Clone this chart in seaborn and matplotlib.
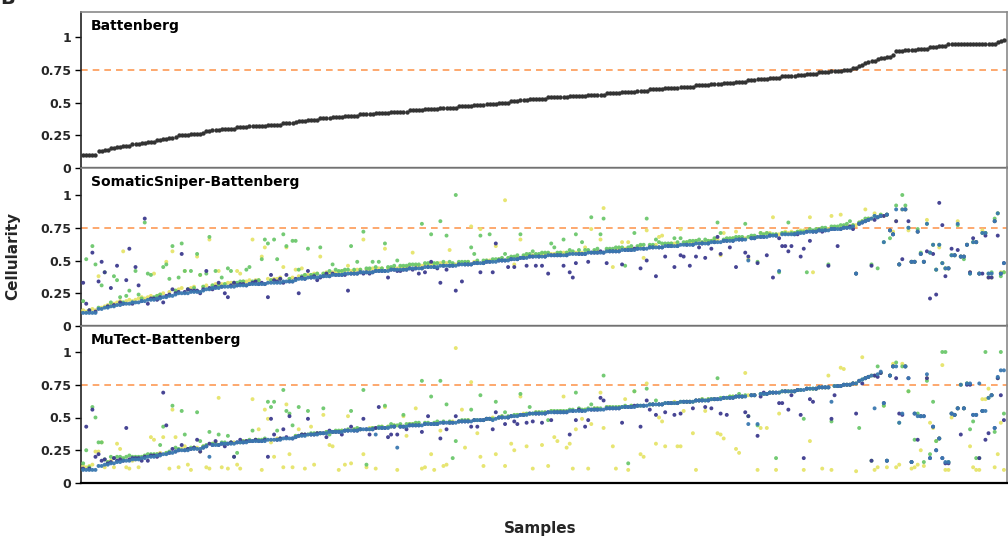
import numpy as np
import pandas as pd
import matplotlib
matplotlib.use("Agg")
import matplotlib.pyplot as plt
import seaborn as sns

# ---------------- data (cellularity in percent, one value per sample) ----------------
BATTENBERG = [
    10, 10, 10, 10, 10, 13, 13, 14, 14, 15, 15, 16, 16, 17, 17, 17, 18, 18, 18, 19,
    19, 20, 20, 20, 21, 21, 22, 22, 23, 23, 24, 25, 25, 25, 25, 26, 26, 26, 26, 27,
    28, 28, 29, 29, 29, 30, 30, 30, 30, 30, 31, 31, 31, 31, 32, 32, 32, 32, 32, 32,
    33, 33, 33, 33, 33, 34, 34, 34, 34, 35, 36, 36, 36, 37, 37, 37, 37, 38, 38, 38,
    38, 39, 39, 39, 39, 40, 40, 40, 40, 40, 41, 41, 41, 41, 41, 42, 42, 42, 42, 42,
    43, 43, 43, 43, 43, 43, 44, 44, 44, 44, 44, 45, 45, 45, 45, 45, 46, 46, 46, 46,
    46, 46, 47, 47, 47, 47, 47, 48, 48, 48, 48, 49, 49, 49, 49, 50, 50, 50, 50, 51,
    51, 51, 52, 52, 52, 53, 53, 53, 53, 53, 53, 54, 54, 54, 54, 54, 54, 54, 55, 55,
    55, 55, 55, 55, 56, 56, 56, 56, 56, 56, 57, 57, 57, 57, 57, 58, 58, 58, 58, 58,
    59, 59, 59, 59, 60, 60, 60, 60, 60, 61, 61, 61, 61, 61, 62, 62, 62, 62, 62, 63,
    63, 63, 63, 63, 64, 64, 64, 64, 65, 65, 65, 65, 66, 66, 66, 66, 67, 67, 67, 68,
    68, 68, 68, 69, 69, 69, 69, 70, 70, 70, 70, 70, 71, 71, 71, 72, 72, 72, 72, 73,
    73, 73, 73, 74, 74, 74, 74, 75, 75, 75, 76, 76, 78, 79, 80, 81, 82, 82, 83, 84,
    84, 85, 85, 86, 89, 89, 89, 90, 90, 90, 90, 91, 91, 91, 91, 92, 92, 92, 93, 93,
    93, 95, 95, 95, 95, 95, 95, 95, 95, 95, 95, 95, 95, 95, 95, 95, 95, 96, 97, 98,
]

SS_PURPLE = [
    33, 17, 12, 56, 11, 34, 49, 41, 15, 29, 16, 46, 18, 17, 35, 59, 17, 45, 31, 19,
    82, 17, 21, 21, 20, 22, 18, 23, 24, 28, 25, 26, 55, 26, 28, 27, 27, 27, 25, 28,
    42, 29, 28, 30, 33, 30, 25, 22, 31, 33, 31, 32, 32, 31, 32, 33, 34, 32, 33, 32,
    22, 39, 35, 34, 36, 33, 39, 34, 34, 36, 25, 37, 36, 42, 37, 38, 35, 37, 38, 40,
    38, 40, 39, 39, 39, 39, 27, 40, 40, 40, 41, 40, 41, 40, 41, 42, 42, 42, 42, 37,
    43, 43, 42, 42, 43, 43, 44, 43, 44, 40, 44, 41, 45, 49, 45, 44, 33, 46, 43, 46,
    46, 27, 47, 34, 47, 47, 47, 48, 48, 41, 48, 49, 49, 41, 63, 50, 50, 50, 45, 51,
    45, 51, 52, 52, 46, 53, 53, 46, 53, 46, 53, 40, 54, 54, 54, 54, 46, 54, 41, 37,
    48, 55, 55, 55, 49, 56, 56, 56, 57, 56, 48, 57, 57, 57, 57, 47, 58, 58, 58, 59,
    59, 44, 59, 50, 60, 60, 38, 60, 60, 53, 61, 61, 45, 61, 54, 53, 62, 46, 62, 53,
    60, 63, 52, 63, 59, 64, 68, 55, 65, 65, 60, 65, 45, 66, 66, 56, 53, 67, 67, 48,
    68, 68, 54, 69, 37, 69, 67, 61, 61, 57, 61, 70, 70, 53, 59, 72, 65, 72, 72, 73,
    72, 73, 46, 74, 74, 61, 74, 75, 75, 76, 74, 40, 78, 79, 80, 81, 46, 81, 83, 84,
    84, 85, 73, 70, 80, 47, 51, 89, 80, 49, 49, 72, 55, 49, 57, 21, 55, 24, 94, 77,
    38, 44, 59, 54, 58, 53, 53, 62, 41, 67, 64, 40, 40, 69, 37, 37, 80, 69, 40, 48,
]
SS_BLUE = [
    10, 10, 10, 10, 10, 13, 13, 14, 14, 15, 15, 16, 16, 17, 17, 17, 18, 18, 18, 19,
    19, 20, 20, 20, 21, 21, 22, 22, 23, 23, 24, 25, 25, 25, 25, 26, 26, 26, 26, 27,
    28, 28, 29, 29, 29, 30, 30, 30, 30, 30, 31, 31, 31, 31, 32, 32, 32, 32, 32, 32,
    33, 33, 33, 33, 33, 34, 34, 34, 34, 35, 36, 36, 36, 37, 37, 37, 37, 38, 38, 38,
    38, 39, 39, 39, 39, 40, 40, 40, 40, 40, 41, 41, 41, 41, 41, 42, 42, 42, 42, 42,
    43, 43, 43, 43, 43, 43, 44, 44, 44, 44, 44, 45, 45, 45, 45, 45, 46, 46, 46, 46,
    46, 46, 47, 47, 47, 47, 47, 48, 48, 48, 48, 49, 49, 49, 49, 50, 50, 50, 50, 51,
    51, 51, 52, 52, 52, 53, 53, 53, 53, 53, 53, 54, 54, 54, 54, 54, 54, 54, 55, 55,
    55, 55, 55, 55, 56, 56, 56, 56, 56, 56, 57, 57, 57, 57, 57, 58, 58, 58, 58, 58,
    59, 59, 59, 59, 60, 60, 60, 60, 60, 61, 61, 61, 61, 61, 62, 62, 62, 62, 62, 63,
    63, 63, 63, 63, 64, 64, 64, 64, 65, 65, 65, 65, 66, 66, 66, 66, 50, 67, 67, 68,
    68, 68, 68, 69, 69, 69, 42, 70, 70, 70, 70, 70, 71, 71, 71, 72, 72, 72, 72, 73,
    73, 73, 73, 74, 74, 74, 74, 75, 75, 75, 76, 40, 78, 79, 80, 81, 82, 84, 83, 84,
    64, 85, 73, 70, 89, 47, 89, 89, 75, 49, 49, 72, 55, 49, 78, 56, 62, 43, 62, 48,
    44, 44, 54, 54, 78, 53, 53, 62, 40, 64, 64, 40, 71, 71, 40, 40, 80, 86, 40, 48,
]
SS_GREEN = [
    19, 51, 12, 61, 47, 14, 31, 41, 15, 18, 38, 35, 22, 18, 23, 27, 18, 42, 24, 21,
    79, 40, 39, 22, 23, 24, 45, 47, 36, 61, 27, 37, 63, 42, 28, 42, 29, 55, 39, 30,
    40, 68, 31, 42, 31, 37, 32, 44, 42, 33, 33, 34, 34, 43, 45, 34, 34, 35, 51, 66,
    63, 35, 66, 51, 36, 70, 61, 36, 65, 65, 43, 38, 39, 59, 39, 39, 40, 60, 40, 40,
    42, 47, 43, 42, 42, 43, 43, 61, 43, 49, 43, 72, 44, 44, 49, 45, 49, 44, 63, 45,
    45, 46, 50, 46, 46, 46, 47, 47, 47, 47, 78, 48, 48, 70, 48, 48, 80, 49, 69, 49,
    48, 100, 49, 49, 49, 49, 60, 55, 50, 69, 50, 50, 70, 51, 51, 51, 52, 55, 52, 53,
    53, 54, 70, 54, 55, 55, 57, 55, 55, 56, 56, 56, 63, 60, 56, 56, 66, 56, 58, 57,
    70, 58, 64, 58, 58, 83, 58, 59, 70, 82, 59, 59, 59, 60, 60, 60, 46, 60, 61, 71,
    61, 62, 62, 82, 62, 62, 66, 64, 63, 63, 63, 63, 67, 64, 67, 64, 64, 65, 65, 65,
    66, 64, 66, 65, 65, 67, 79, 71, 66, 67, 67, 67, 68, 68, 68, 78, 68, 69, 69, 49,
    71, 70, 71, 70, 70, 70, 41, 71, 71, 79, 71, 71, 72, 72, 72, 41, 74, 73, 74, 74,
    75, 75, 47, 76, 76, 76, 77, 77, 78, 80, 77, 40, 79, 80, 82, 82, 47, 84, 44, 85,
    64, 85, 67, 70, 92, 47, 100, 92, 75, 49, 49, 74, 56, 49, 78, 56, 62, 43, 62, 48,
    44, 44, 54, 54, 77, 53, 51, 62, 40, 64, 64, 40, 71, 71, 40, 41, 82, 86, 38, 41,
]
SS_YELLOW = [
    12, 11, 12, 13, 12, 38, 14, 15, 16, 16, 17, 18, 19, 57, 19, 20, 19, 20, 21, 22,
    21, 22, 23, 40, 23, 24, 25, 49, 26, 57, 27, 28, 29, 42, 28, 29, 30, 53, 39, 30,
    31, 66, 31, 32, 42, 32, 32, 33, 33, 33, 42, 40, 34, 34, 35, 66, 35, 35, 53, 60,
    36, 35, 36, 36, 37, 45, 60, 36, 37, 43, 38, 44, 39, 39, 39, 40, 40, 53, 40, 41,
    40, 41, 41, 41, 42, 42, 46, 42, 42, 43, 43, 66, 43, 43, 44, 44, 44, 44, 59, 44,
    44, 44, 44, 45, 45, 45, 46, 56, 46, 46, 46, 47, 47, 47, 47, 48, 48, 48, 48, 58,
    47, 47, 48, 48, 48, 49, 76, 49, 49, 74, 49, 50, 50, 50, 61, 51, 51, 96, 51, 52,
    47, 52, 66, 53, 53, 54, 54, 54, 54, 55, 55, 55, 55, 55, 55, 56, 56, 56, 56, 56,
    56, 56, 56, 60, 57, 74, 57, 57, 66, 90, 58, 58, 45, 58, 59, 64, 59, 64, 59, 59,
    60, 61, 52, 73, 61, 61, 62, 68, 69, 62, 62, 63, 63, 63, 74, 63, 64, 64, 64, 65,
    63, 64, 64, 65, 65, 66, 66, 54, 71, 66, 66, 67, 72, 67, 67, 67, 51, 68, 68, 68,
    71, 70, 71, 71, 83, 70, 70, 71, 72, 71, 72, 71, 72, 73, 73, 73, 83, 41, 73, 74,
    74, 74, 74, 84, 75, 75, 85, 76, 76, 76, 77, 77, 79, 80, 89, 82, 82, 86, 83, 85,
    84, 85, 73, 72, 80, 47, 89, 89, 73, 49, 49, 72, 55, 49, 81, 56, 62, 43, 60, 48,
    44, 44, 54, 54, 80, 53, 53, 62, 41, 64, 64, 40, 73, 71, 37, 37, 80, 86, 41, 41,
]

MT_PURPLE = [
    11, 43, 11, 56, 20, 22, 17, 18, 15, 16, 19, 17, 18, 17, 42, 18, 19, 19, 19, 17,
    20, 17, 21, 21, 20, 22, 69, 44, 23, 26, 24, 25, 29, 25, 26, 26, 27, 33, 24, 27,
    28, 30, 29, 32, 29, 30, 28, 30, 31, 20, 31, 33, 31, 32, 32, 32, 33, 32, 32, 33,
    20, 49, 37, 33, 34, 41, 35, 51, 34, 35, 36, 37, 37, 49, 37, 37, 38, 38, 38, 35,
    40, 39, 39, 39, 37, 40, 40, 43, 40, 40, 41, 49, 41, 37, 41, 42, 58, 42, 42, 35,
    37, 43, 37, 43, 43, 41, 44, 44, 44, 44, 39, 45, 51, 45, 45, 45, 34, 46, 41, 46,
    46, 51, 47, 47, 47, 47, 43, 48, 43, 48, 48, 49, 49, 41, 54, 50, 50, 45, 50, 51,
    47, 45, 52, 52, 46, 53, 47, 53, 53, 46, 53, 54, 48, 54, 54, 54, 54, 54, 37, 55,
    48, 56, 55, 43, 48, 56, 56, 56, 65, 63, 57, 57, 57, 57, 57, 46, 58, 58, 58, 59,
    59, 43, 59, 63, 56, 60, 52, 60, 60, 54, 61, 61, 52, 61, 53, 62, 62, 62, 57, 63,
    63, 63, 58, 63, 57, 64, 64, 53, 65, 52, 65, 65, 66, 66, 66, 54, 51, 67, 67, 36,
    66, 69, 68, 69, 69, 69, 61, 61, 70, 56, 67, 70, 71, 52, 19, 72, 64, 62, 72, 73,
    73, 73, 73, 49, 67, 74, 74, 75, 75, 75, 76, 53, 78, 76, 80, 81, 17, 82, 81, 84,
    61, 17, 82, 89, 80, 53, 52, 89, 80, 16, 53, 33, 51, 51, 80, 19, 43, 25, 34, 19,
    15, 15, 53, 52, 57, 37, 57, 75, 75, 52, 52, 19, 55, 33, 38, 67, 42, 80, 67, 48,
]
MT_BLUE = [
    10, 10, 10, 10, 10, 13, 13, 14, 14, 15, 15, 16, 16, 17, 17, 17, 18, 18, 18, 19,
    19, 20, 20, 20, 21, 21, 22, 22, 23, 23, 24, 25, 25, 25, 25, 26, 26, 26, 26, 27,
    28, 20, 29, 29, 29, 30, 30, 30, 30, 30, 31, 31, 31, 31, 32, 32, 32, 32, 32, 32,
    33, 33, 33, 33, 33, 34, 34, 34, 34, 35, 36, 36, 36, 37, 37, 37, 37, 38, 38, 38,
    39, 39, 39, 39, 39, 40, 40, 40, 40, 40, 41, 41, 41, 41, 41, 37, 42, 42, 42, 42,
    43, 43, 27, 43, 43, 43, 44, 44, 44, 44, 44, 45, 45, 45, 45, 45, 46, 46, 46, 46,
    46, 46, 47, 47, 47, 47, 47, 48, 48, 48, 48, 49, 49, 48, 49, 50, 50, 50, 50, 51,
    51, 51, 52, 52, 52, 53, 53, 53, 53, 53, 53, 54, 54, 54, 54, 54, 54, 54, 55, 55,
    55, 55, 55, 55, 56, 56, 56, 56, 56, 56, 57, 57, 57, 57, 57, 58, 58, 58, 58, 58,
    59, 59, 59, 59, 60, 60, 60, 60, 60, 61, 61, 61, 61, 61, 62, 62, 62, 62, 62, 63,
    63, 63, 63, 63, 64, 64, 64, 64, 65, 65, 65, 65, 66, 66, 66, 66, 45, 67, 67, 45,
    68, 68, 68, 69, 69, 69, 69, 70, 70, 70, 70, 70, 71, 71, 71, 72, 72, 72, 72, 73,
    73, 73, 73, 62, 74, 74, 74, 75, 75, 75, 76, 76, 78, 79, 80, 81, 82, 57, 83, 85,
    61, 17, 82, 89, 89, 46, 53, 89, 80, 16, 53, 51, 51, 51, 83, 19, 43, 25, 34, 19,
    16, 16, 53, 52, 57, 75, 57, 76, 76, 52, 52, 76, 55, 55, 65, 67, 42, 81, 86, 86,
]
MT_GREEN = [
    15, 25, 12, 58, 50, 31, 31, 18, 16, 20, 19, 20, 20, 19, 20, 21, 20, 20, 20, 20,
    21, 22, 22, 22, 22, 29, 43, 23, 24, 59, 27, 26, 55, 37, 26, 27, 27, 54, 32, 28,
    29, 39, 30, 30, 37, 31, 31, 36, 31, 20, 23, 31, 32, 32, 33, 40, 33, 33, 33, 34,
    62, 58, 62, 40, 34, 71, 55, 53, 44, 36, 58, 37, 37, 55, 38, 38, 38, 38, 57, 39,
    37, 39, 40, 40, 40, 40, 41, 55, 41, 42, 41, 71, 14, 41, 42, 42, 43, 43, 59, 43,
    45, 44, 44, 45, 52, 45, 45, 45, 46, 46, 78, 46, 46, 66, 46, 47, 78, 47, 60, 47,
    19, 32, 47, 48, 48, 48, 56, 48, 48, 67, 48, 49, 49, 49, 62, 50, 51, 54, 51, 51,
    52, 52, 68, 52, 53, 58, 53, 54, 54, 54, 54, 48, 55, 55, 55, 55, 55, 55, 56, 56,
    69, 57, 56, 56, 57, 60, 57, 57, 57, 82, 58, 58, 58, 58, 58, 58, 59, 15, 59, 70,
    59, 59, 59, 72, 60, 60, 63, 60, 60, 61, 61, 61, 61, 61, 62, 62, 62, 62, 62, 63,
    63, 64, 63, 64, 64, 64, 80, 65, 65, 65, 66, 66, 66, 68, 66, 67, 51, 67, 67, 44,
    68, 68, 68, 69, 69, 19, 69, 70, 70, 70, 70, 70, 71, 71, 49, 72, 72, 72, 72, 73,
    73, 73, 73, 47, 74, 74, 74, 75, 75, 75, 76, 76, 42, 79, 80, 81, 17, 82, 89, 84,
    59, 17, 82, 89, 92, 46, 89, 89, 70, 16, 33, 53, 51, 16, 78, 22, 62, 32, 34, 100,
    100, 16, 53, 52, 57, 75, 57, 76, 41, 47, 19, 19, 55, 100, 65, 67, 39, 80, 100, 53,
]
MT_YELLOW = [
    13, 12, 13, 14, 24, 24, 31, 12, 16, 17, 12, 30, 26, 18, 12, 11, 17, 18, 12, 19,
    20, 21, 35, 33, 22, 23, 35, 23, 11, 56, 35, 12, 26, 28, 14, 10, 27, 27, 24, 28,
    12, 11, 30, 31, 65, 12, 30, 11, 31, 31, 14, 11, 32, 32, 32, 64, 33, 41, 10, 56,
    49, 31, 20, 34, 34, 12, 60, 22, 12, 36, 41, 37, 11, 37, 43, 14, 38, 38, 52, 39,
    29, 28, 39, 10, 40, 14, 51, 15, 41, 41, 41, 22, 12, 42, 42, 11, 42, 43, 58, 43,
    43, 44, 10, 44, 51, 36, 45, 45, 57, 45, 11, 12, 45, 22, 10, 46, 40, 13, 14, 46,
    47, 103, 47, 56, 27, 48, 77, 48, 38, 20, 13, 49, 49, 50, 22, 50, 51, 13, 50, 30,
    25, 52, 66, 53, 28, 53, 11, 54, 54, 29, 54, 13, 55, 35, 32, 55, 66, 27, 30, 11,
    41, 56, 49, 56, 11, 45, 57, 57, 69, 42, 58, 58, 28, 11, 58, 58, 64, 10, 59, 70,
    59, 22, 20, 76, 60, 60, 30, 50, 47, 28, 61, 61, 62, 28, 28, 55, 62, 62, 38, 10,
    63, 64, 55, 64, 64, 64, 38, 37, 34, 65, 66, 66, 26, 23, 66, 84, 67, 67, 67, 10,
    42, 68, 42, 69, 69, 10, 53, 70, 70, 70, 70, 70, 71, 71, 10, 72, 32, 72, 72, 73,
    11, 73, 82, 10, 74, 74, 88, 87, 75, 75, 76, 9, 78, 96, 80, 81, 82, 10, 12, 84,
    59, 12, 82, 91, 12, 14, 91, 89, 70, 11, 12, 14, 25, 13, 80, 46, 42, 32, 34, 90,
    10, 10, 50, 52, 57, 75, 57, 76, 28, 12, 10, 10, 64, 64, 72, 67, 12, 22, 46, 10,
]

PANEL_TITLES = ["Battenberg", "SomaticSniper-Battenberg", "MuTect-Battenberg"]
Y_TICKS = [0, 0.25, 0.5, 0.75, 1]
Y_TICK_LABELS = ["0", "0.25", "0.5", "0.75", "1"]
THRESHOLD = 0.75

# drawing order: later series sit on top
SERIES_ORDER = ["setting 4", "setting 3", "setting 1", "setting 2"]
PALETTE = {"setting 1": "#3d3b8e", "setting 2": "#3a78b0",
           "setting 3": "#6cc86c", "setting 4": "#e6e46a"}


def long_frame(series):
    frames = []
    for name in SERIES_ORDER:
        vals = series[name]
        frames.append(pd.DataFrame({"sample": np.arange(len(vals)),
                                    "cellularity": np.asarray(vals, float) / 100.0,
                                    "caller": name}))
    return pd.concat(frames, ignore_index=True)


sns.set_theme(style="white")
plt.rcParams["font.family"] = ["DejaVu Sans"]

W, H = 1008, 539
fig = plt.figure(figsize=(W / 100, H / 100), dpi=100)

left = 81 / W
width = 926 / W
rows = [(12, 168), (168, 326), (326, 483)]
axes = []
for (t, b) in rows:
    ax = fig.add_axes([left, (H - b) / H, width, (b - t) / H])
    ax.set_ylim(0, (b - t) / 131.0)
    axes.append(ax)

n = len(BATTENBERG)

# top panel
top = pd.DataFrame({"sample": np.arange(n), "cellularity": np.asarray(BATTENBERG, float) / 100.0})
sns.scatterplot(data=top, x="sample", y="cellularity", color="#333333", s=10,
                linewidth=0, ax=axes[0], legend=False, zorder=3)

ss = long_frame({"setting 1": SS_PURPLE, "setting 2": SS_BLUE,
                 "setting 3": SS_GREEN, "setting 4": SS_YELLOW})
mt = long_frame({"setting 1": MT_PURPLE, "setting 2": MT_BLUE,
                 "setting 3": MT_GREEN, "setting 4": MT_YELLOW})
for ax, df in ((axes[1], ss), (axes[2], mt)):
    sns.scatterplot(data=df, x="sample", y="cellularity", hue="caller",
                    hue_order=SERIES_ORDER, palette=PALETTE, s=8, linewidth=0,
                    alpha=0.95, ax=ax, legend=False, zorder=3)

for ax, title in zip(axes, PANEL_TITLES):
    ax.set_xlim(-0.7, n)
    ax.axhline(THRESHOLD, color="#fd9a55", lw=1.2, ls=(0, (4, 3)), zorder=2)
    ax.set_yticks(Y_TICKS)
    ax.set_yticklabels(Y_TICK_LABELS, fontsize=9, fontweight="bold")
    ax.set_xticks([])
    ax.set_xlabel("")
    ax.set_ylabel("")
    ax.tick_params(axis="y", left=True, length=4, width=1, color="black", pad=3)
    for side in ("top", "right"):
        ax.spines[side].set_color("#8a8a8a")
        ax.spines[side].set_linewidth(1.2)
    ax.spines["left"].set_color("#222222")
    ax.spines["left"].set_linewidth(1.2)
    ax.spines["bottom"].set_color("black")
    ax.spines["bottom"].set_linewidth(1.6)
    ax.text(10 / 926, 1 - 7 / 156, title, transform=ax.transAxes, ha="left",
            va="top", fontsize=10, fontweight="bold", color="black")

fig.text(13 / W, 1 - 256 / H, "Cellularity", rotation=90, ha="center", va="center",
         fontsize=11, fontweight="bold")
fig.text(540 / W, 1 - 529 / H, "Samples", ha="center", va="center",
         fontsize=11, fontweight="bold")
# panel letter, clipped by the top edge as in the source figure
fig.text(0.0, 1 - 4 / H, "B", ha="left", va="baseline", fontsize=14, fontweight="bold")

fig.savefig("out.png", dpi=100)
